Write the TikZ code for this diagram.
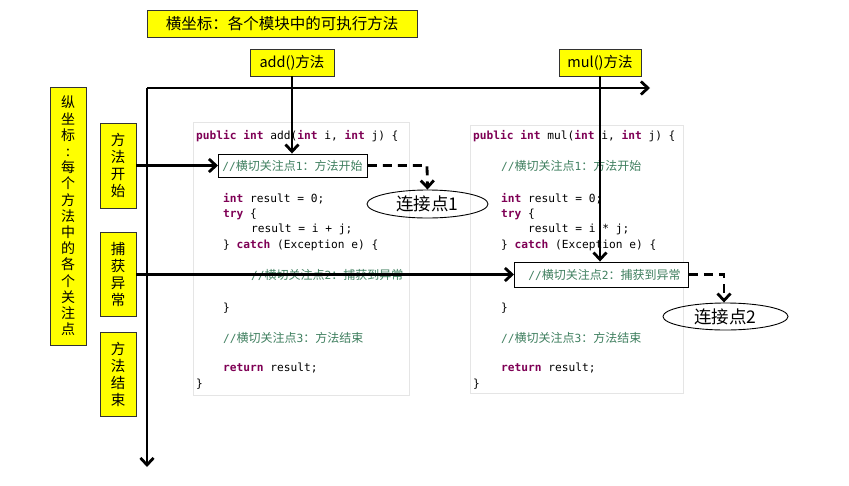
\documentclass[tikz,border=0pt]{standalone}
\usepackage{fontspec}
\setmainfont{Noto Sans CJK SC}
\setmonofont{DejaVu Sans Mono}
\newfontfamily\cjk{Noto Sans CJK SC}
\usetikzlibrary{arrows.meta,shapes.geometric}
\definecolor{kw}{HTML}{7F0055}
\definecolor{cm}{HTML}{3F7F5F}
\definecolor{ybox}{HTML}{FFFF00}
\newcommand{\kwd}[1]{{\bfseries\color{kw}#1}}
\newcommand{\cmt}[1]{{\color{cm}#1}}
\newcommand{\zh}[1]{{\cjk\fontsize{12}{14}\selectfont #1}}
\tikzset{
  ylabel/.style={draw=black!80, line width=0.8pt, fill=ybox, inner sep=0pt, align=center},
  vlabel/.style={ylabel, minimum width=36pt, font=\fontsize{14.5}{17}\selectfont},
  codeline/.style={anchor=base west, inner sep=0pt, font=\ttfamily\fontsize{11.2}{13}\selectfont},
  cbox/.style={draw=black, line width=0.9pt, fill=white, inner xsep=4pt, inner ysep=0pt, align=left, minimum height=23pt, font=\ttfamily\fontsize{11.2}{13}\selectfont},
  jp/.style={draw=black, line width=0.9pt, ellipse, inner sep=0pt, font=\fontsize{17.5}{20}\selectfont},
  tip/.style={-{Straight Barb[length=7pt,width=13pt]}},
  axis/.style={line width=2.8pt, tip},
  link/.style={line width=2.8pt, tip},
  dlink/.style={line width=2.8pt, dash pattern=on 9pt off 6pt, tip},
  panel/.style={draw=black!10, line width=0.6pt}
}
\begin{document}
\begin{tikzpicture}[x=1pt,y=-1pt]
\useasboundingbox (0,0) rectangle (849,485);
\fill[white] (0,0) rectangle (849,485);

% code panels
\draw[panel] (193,122) rectangle (409,395);
\draw[panel] (470,125) rectangle (683,393);

% left code
\node[codeline] (a1) at (196,139) {\kwd{public} \kwd{int} add(\kwd{int} i, \kwd{int} j) \{};
\node[codeline] (a3) at (223,202) {\kwd{int} result = 0;};
\node[codeline] (a4) at (223,217) {\kwd{try} \{};
\node[codeline] (a5) at (251,232.5) {result = i + j;};
\node[codeline] (a6) at (223,248) {\} \kwd{catch} (Exception e) \{};
\node[codeline] (a7) at (251,279) {\cmt{//\zh{横切关注点}2\zh{：捕获到异常}}};
\node[codeline] (a8) at (223,311) {\}};
\node[codeline] (a9) at (223,342) {\cmt{//\zh{横切关注点}3\zh{：方法结束}}};
\node[codeline] (a10) at (223,371) {\kwd{return} result;};
\node[codeline] (a11) at (196,387) {\}};

% right code
\node[codeline] (b1) at (473,139) {\kwd{public} \kwd{int} mul(\kwd{int} i, \kwd{int} j) \{};
\node[codeline] (b2) at (501,170) {\cmt{//\zh{横切关注点}1\zh{：方法开始}}};
\node[codeline] (b3) at (501,202) {\kwd{int} result = 0;};
\node[codeline] (b4) at (501,217) {\kwd{try} \{};
\node[codeline] (b5) at (528,232.5) {result = i * j;};
\node[codeline] (b6) at (501,248) {\} \kwd{catch} (Exception e) \{};
\node[codeline] (b8) at (501,311) {\}};
\node[codeline] (b9) at (501,342) {\cmt{//\zh{横切关注点}3\zh{：方法结束}}};
\node[codeline] (b10) at (501,371) {\kwd{return} result;};
\node[codeline] (b11) at (473,387) {\}};

% yellow labels
\node[ylabel, minimum width=270pt, minimum height=27pt, font=\fontsize{15.5}{18}\selectfont] (title) at (282,23.5) {横坐标：各个模块中的可执行方法};
\node[ylabel, minimum width=84pt, minimum height=27pt, font=\fontsize{14.5}{17}\selectfont] (add) at (292,62.5) {add()方法};
\node[ylabel, minimum width=82pt, minimum height=27pt, font=\fontsize{14.5}{17}\selectfont] (mul) at (600,62.5) {mul()方法};
\node[ylabel, minimum width=36pt, minimum height=258pt, font=\fontsize{14}{16.2}\selectfont] (yaxis) at (68,216)
  {纵\\坐\\标\\:\\每\\个\\方\\法\\中\\的\\各\\个\\关\\注\\点};
\node[vlabel, minimum height=85pt] (start) at (118,165.5) {方\\法\\开\\始};
\node[vlabel, minimum height=84pt] (catch) at (118,274) {捕\\获\\异\\常};
\node[vlabel, minimum height=84pt] (end) at (118,374) {方\\法\\结\\束};

% axes
\coordinate (o) at (147,88);
\coordinate (xend) at (650,88);
\coordinate (yend) at (147,467);
\draw[axis] (o) -- (xend);
\draw[axis] (o) -- (yend);

% cross-cut boxes
\node[cbox, text width=141pt, anchor=west] (box1) at (218,165.5) {\cmt{//\zh{横切关注点}1\zh{：方法开始}}};
\node[cbox, text width=166pt, minimum height=25pt, anchor=west] (box2) at (514,274.5) {\hspace*{10pt}\cmt{//\zh{横切关注点}2\zh{：捕获到异常}}};

% join points
\node[jp, minimum width=121pt, minimum height=28pt] (jp1) at (427.5,204) {连接点1};
\node[jp, minimum width=125pt, minimum height=27pt] (jp2) at (725.5,316.5) {连接点2};

% arrows
\draw[link] (start.east |- box1.west) -- (box1.west);
\draw[link] (catch.east |- box2.west) -- (box2.west);
\draw[link] (add.south) -- (box1.north -| add.south);
\draw[link] (mul.south) -- (box2.north -| mul.south);
\coordinate (c1) at (427,165.5);
\coordinate (c2) at (724,274.5);
\draw[dlink] (box1.east) -- (c1) -- (jp1.north);
\draw[dlink] (box2.east) -- (c2) -- (c2 |- jp2.north);
\end{tikzpicture}
\end{document}
